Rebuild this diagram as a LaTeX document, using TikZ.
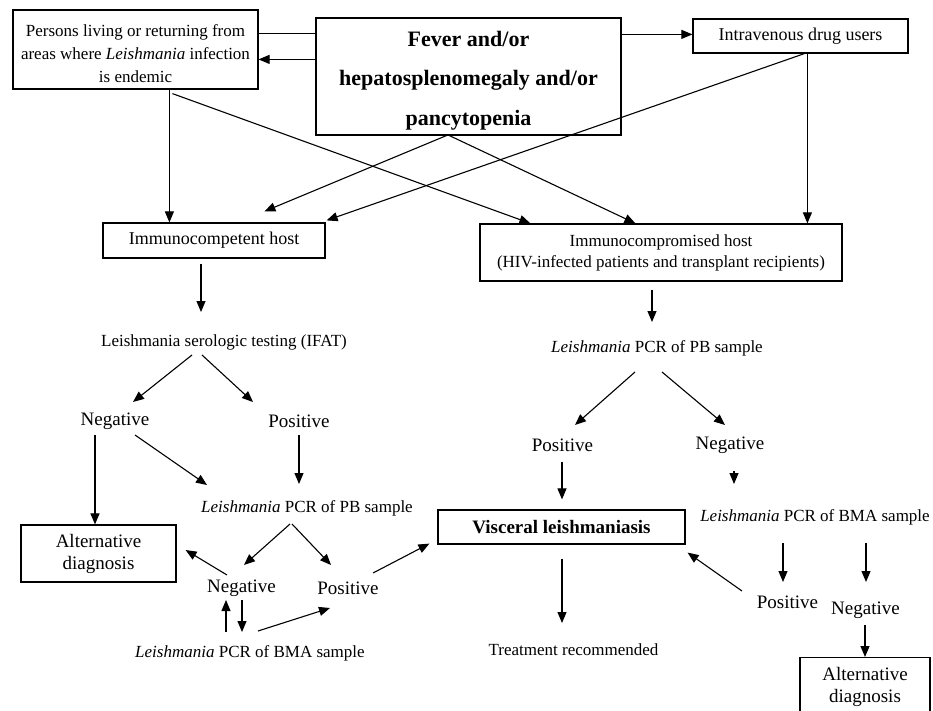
\documentclass[tikz,border=0pt]{standalone}
\usepackage{fontspec}
\setmainfont{Liberation Serif}
\usetikzlibrary{calc,arrows.meta}
\begin{document}
\begin{tikzpicture}[x=1pt,y=-1pt,
  box/.style={draw, line width=1.2pt, inner sep=0pt, align=center},
  lbl/.style={inner sep=0pt, align=center},
  arr/.style={line width=1.1pt, -{Triangle[length=11pt,width=9pt]}},
  ln/.style={line width=1.1pt},
  base/.style={font=\fontsize{17}{23}\selectfont},
  big/.style={font=\fontsize{19}{22}\selectfont}]
\clip (0,0) rectangle (933,711);
\fill[white] (0,0) rectangle (933,711);
% boxes
\node[box, minimum width=245pt, minimum height=79pt] (P) at (135.5,49.5) {};
\node[lbl, font=\fontsize{17}{23}\selectfont] (PT) at (135.5,54)
  {Persons living or returning from\\areas where \textit{Leishmania} infection\\is endemic};
\node[box, minimum width=305pt, minimum height=117pt] (F) at (468.5,76.5) {};
\node[lbl, font=\bfseries\fontsize{22}{39.5}\selectfont] (FT) at (468.5,80.5)
  {Fever and/or\\hepatosplenomegaly and/or\\pancytopenia};
\node[box, font=\fontsize{18}{22}\selectfont, minimum width=215pt, minimum height=34pt] (IV) at (800.5,36) {Intravenous drug users};
\node[box, font=\fontsize{18}{22}\selectfont, minimum width=222pt, minimum height=35pt] (IC) at (214,240.5) {\raisebox{-2pt}{Immunocompetent host}};
\node[box, font=\fontsize{17}{21}\selectfont, minimum width=362pt, minimum height=57pt] (IM) at (661,252.5)
  {Immunocompromised host\\(HIV-infected patients and transplant recipients)};
\node[box, big, minimum width=155pt, minimum height=57pt] (AL) at (98.5,553.5) {Alternative\\diagnosis};
\node[box, minimum width=247pt, minimum height=34pt, font=\bfseries\fontsize{19}{22}\selectfont] (VL) at (561.5,527) {Visceral leishmaniasis};
\node[box, minimum width=130pt, minimum height=64pt, anchor=north] (AR) at (865,657) {};
\node[lbl, big] (ART) at (865,687) {Alternative\\diagnosis};
% text labels
\node[lbl, base] (IFAT) at (224,342) {Leishmania serologic testing (IFAT)};
\node[lbl, big] (N1) at (115,421) {Negative};
\node[lbl, big] (P1) at (299,421) {Positive};
\node[lbl, base] (PBL) at (307,508) {\textit{Leishmania} PCR of PB sample};
\node[lbl, big] (N2) at (241.5,588) {Negative};
\node[lbl, big] (P2) at (348,588) {Positive};
\node[lbl, base] (BMAL) at (250,653) {\textit{Leishmania} PCR of BMA sample};
\node[lbl, base] (PBR) at (657,348) {\textit{Leishmania} PCR of PB sample};
\node[lbl, big] (PR) at (562.5,445) {Positive};
\node[lbl, big] (NR) at (730,445) {Negative};
\node[lbl, base] (BMAR) at (815,517) {\textit{Leishmania} PCR of BMA sample};
\node[lbl, big] (P3) at (787.5,602) {Positive};
\node[lbl, big] (N3) at (865.5,610) {Negative};
\node[lbl, base] (TR) at (573.5,650) {Treatment recommended};
% connectors top
\draw[ln] ($(F.north west)+(0,16)$) -- ($(P.north east)+(0,24)$);
\draw[arr] ($(F.north west)+(0,42)$) -- ($(P.north east)+(0,50)$);
\draw[arr] ($(F.north east)+(0,17)$) -- ($(IV.north west)+(0,16)$);
\draw[arr] ($(P.south west)+(157,0)$) -- ($(IC.north west)+(67,0)$);
\draw[arr] ($(P.south west)+(160,4)$) -- ($(IM.north west)+(51,0)$);
\draw[arr] ($(F.south west)+(134,0)$) -- ($(IM.north west)+(156,0)$);
\draw[arr] ($(F.south west)+(131,0)$) -- ($(IC.north west)+(162,-11)$);
\draw[arr] ($(IV.south west)+(112,0)$) -- ($(IC.north east)+(1,-2)$);
\draw[arr] ($(IV.south west)+(115,0)$) -- ($(IM.north west)+(328,0)$);
% left column
\draw[arr] ($(IC.south)+(-13,5)$) -- ($(IFAT.center)+(-23,-30)$);
\draw[arr] ($(IFAT.center)+(-32,13)$) -- ($(N1.center)+(18,-19)$);
\draw[arr] ($(IFAT.center)+(-22,13)$) -- ($(P1.center)+(-46,-19)$);
\draw[arr] ($(N1.center)+(-20,14)$) -- ($(AL.north)+(-3.5,0)$);
\draw[arr] ($(N1.center)+(20,14)$) -- ($(PBL.center)+(-100,-23)$);
\draw[arr] ($(P1.center)+(0,14)$) -- ($(PBL.center)+(-8,-24)$);
\draw[arr] ($(PBL.center)+(-17,16)$) -- ($(N2.center)+(2.5,-23)$);
\draw[arr] ($(PBL.center)+(-15,16)$) -- ($(P2.center)+(-17,-23)$);
\draw[arr] ($(N2.center)+(-14.5,-13)$) -- ($(AL.east)+(9,-3.5)$);
\draw[arr] ($(P2.center)+(25,-15)$) -- ($(VL.south west)+(-8,-1)$);
\draw[arr] ($(BMAL.center)+(-24,-21)$) -- ($(N2.center)+(-15.5,12)$);
\draw[arr] ($(N2.center)+(0.5,12)$) -- ($(BMAL.center)+(-8,-21)$);
\draw[arr] ($(BMAL.center)+(8,-22)$) -- ($(P2.center)+(-18,20)$);
% right column
\draw[arr] ($(IM.south)+(-9,8)$) -- ($(PBR.center)+(-5,-26)$);
\draw[arr] ($(PBR.center)+(-22,24)$) -- ($(PR.center)+(12.5,-20)$);
\draw[arr] ($(PBR.center)+(5,24)$) -- ($(NR.center)+(-5,-20)$);
\draw[arr] ($(PR.center)+(-0.5,17)$) -- ($(VL.north)+(0.5,-10)$);
\draw[arr] ($(NR.center)+(4,26)$) -- ($(BMAR.center)+(-81,-33)$);
\draw[arr] ($(VL.south)+(0.5,14)$) -- ($(TR.center)+(-11.5,-27)$);
\draw[arr] ($(BMAR.center)+(-32,26)$) -- ($(P3.center)+(-4.5,-20)$);
\draw[arr] ($(BMAR.center)+(51,26)$) -- ($(N3.center)+(0.5,-28)$);
\draw[arr] ($(P3.center)+(-45.5,-11)$) -- ($(VL.south east)+(2,8)$);
\draw[arr] ($(N3.center)+(-0.5,15)$) -- (AR.north);
\end{tikzpicture}
\end{document}
